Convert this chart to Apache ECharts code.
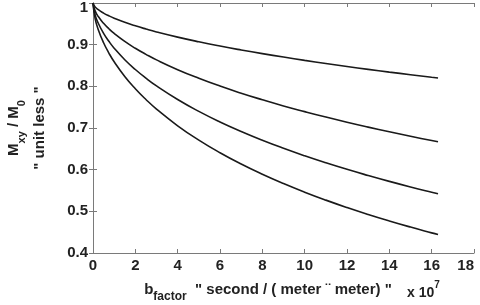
<!DOCTYPE html>
<html>
<head>
<meta charset="utf-8">
<script src="https://cdn.jsdelivr.net/npm/echarts@6/dist/echarts.min.js"></script>
<style>
html,body{margin:0;padding:0;background:#fff;}
#chart{width:480px;height:305px;}
</style>
</head>
<body>
<div id="chart"></div>
<script>
// b factor values (x 10^7 s/m^2)
var bValues = [0, 0.1, 0.25, 0.5, 0.75, 1, 1.5, 2, 2.5, 3, 4, 5, 6, 7, 8, 9, 10, 11, 12, 13, 14, 15, 16, 16.3];
// Mxy/M0 curves (top to bottom)
var curve1 = [1, 0.9907, 0.9839, 0.9758, 0.9692, 0.9635, 0.9537, 0.9452, 0.9376, 0.9306, 0.9181, 0.9069, 0.8967, 0.8873, 0.8785, 0.8702, 0.8623, 0.8549, 0.8477, 0.8408, 0.8342, 0.8279, 0.8217, 0.8199];
var curve2 = [1, 0.9811, 0.9675, 0.9512, 0.9381, 0.9269, 0.9077, 0.8913, 0.8768, 0.8635, 0.8400, 0.8193, 0.8006, 0.7835, 0.7678, 0.7530, 0.7393, 0.7262, 0.7138, 0.7021, 0.6909, 0.6802, 0.6699, 0.6669];
var curve3 = [1, 0.9716, 0.9513, 0.9271, 0.9080, 0.8916, 0.8639, 0.8404, 0.8197, 0.8011, 0.7684, 0.7399, 0.7145, 0.6917, 0.6707, 0.6514, 0.6334, 0.6166, 0.6008, 0.5860, 0.5719, 0.5585, 0.5458, 0.5422];
var curve4 = [1, 0.9625, 0.9360, 0.9046, 0.8799, 0.8590, 0.8238, 0.7942, 0.7684, 0.7454, 0.7053, 0.6709, 0.6406, 0.6135, 0.5890, 0.5666, 0.5460, 0.5269, 0.5091, 0.4925, 0.4769, 0.4622, 0.4483, 0.4443];
var xTicks = {min: 0, max: 18, interval: 2};
var yTicks = {min: 0.4, max: 1, interval: 0.1};

var FONT = 'Liberation Sans, Arial, sans-serif';
var chart = echarts.init(document.getElementById('chart'), null, {renderer: 'canvas'});

function pairs(ys) { return bValues.map(function (b, i) { return [b, ys[i]]; }); }
function lineSeries(ys) {
  return {
    type: 'line', data: pairs(ys), smooth: true, showSymbol: false,
    lineStyle: {color: '#1a1a1a', width: 1.6}, silent: true
  };
}
var axisCol = '#7a7a7a';
var labelStyle = {color: '#222', fontSize: 15, fontWeight: 'bold', fontFamily: FONT};

chart.setOption({
  backgroundColor: '#fff',
  animation: false,
  grid: {left: 93, right: 6, top: 3, bottom: 52, containLabel: false, outerBoundsMode: 'none'},
  xAxis: [{
    type: 'value', min: xTicks.min, max: xTicks.max, interval: xTicks.interval,
    axisLine: {lineStyle: {color: axisCol, width: 1}},
    axisTick: {inside: true, length: 4, lineStyle: {color: axisCol}},
    splitLine: {show: false},
    axisLabel: Object.assign({margin: 5, alignMaxLabel: 'right'}, labelStyle),
    name: '{b|b}{s|factor}{b|  " second / ( meter ¨ meter) "}',
    nameLocation: 'middle', nameGap: 24,
    nameTextStyle: {
      padding: [0, 31, 0, 0],
      rich: {
        b: {fontSize: 15, fontWeight: 'bold', fontFamily: FONT, color: '#222', lineHeight: 20, verticalAlign: 'bottom'},
        s: {fontSize: 12, fontWeight: 'bold', fontFamily: FONT, color: '#222', lineHeight: 12, verticalAlign: 'bottom', padding: [0, 0, -6, 0]}
      }
    }
  }, {
    type: 'value', position: 'top', min: xTicks.min, max: xTicks.max, interval: xTicks.interval,
    axisLine: {lineStyle: {color: axisCol, width: 1}},
    axisTick: {inside: true, length: 4, lineStyle: {color: axisCol}},
    axisLabel: {show: false}, splitLine: {show: false}
  }],
  yAxis: [{
    type: 'value', min: yTicks.min, max: yTicks.max, interval: yTicks.interval,
    axisLine: {show: true, lineStyle: {color: axisCol, width: 1}},
    axisTick: {show: true, inside: true, length: 4, lineStyle: {color: axisCol}},
    splitLine: {show: false},
    axisLabel: Object.assign({
      margin: 5,
      formatter: function (v) { return v >= 1 ? '{top|' + v + '}' : String(+v.toFixed(1)); },
      rich: {top: {fontSize: 15, fontWeight: 'bold', fontFamily: FONT, color: '#222', padding: [9, 0, 0, 0]}}
    }, labelStyle),
    name: '{b|M}{s|xy}{b| / M}{s|0}\n{c|" unit less "}',
    nameLocation: 'middle', nameRotate: 90, nameGap: 46,
    nameTextStyle: {
      rich: {
        b: {fontSize: 15, fontWeight: 'bold', fontFamily: FONT, color: '#222', lineHeight: 21, verticalAlign: 'top'},
        s: {fontSize: 11, fontWeight: 'bold', fontFamily: FONT, color: '#222', lineHeight: 11, verticalAlign: 'top', padding: [10, 0, 0, 0]},
        c: {fontSize: 15, fontWeight: 'bold', fontFamily: FONT, color: '#222', lineHeight: 20, verticalAlign: 'bottom'}
      }
    }
  }, {
    type: 'value', position: 'right', min: yTicks.min, max: yTicks.max, interval: yTicks.interval,
    axisLine: {show: true, lineStyle: {color: axisCol, width: 1}},
    axisTick: {show: true, inside: true, length: 4, lineStyle: {color: axisCol}},
    axisLabel: {show: false}, splitLine: {show: false}
  }],
  graphic: [{
    type: 'text', left: 407, top: 280,
    style: {
      text: '{b|x 10}{p|7}',
      rich: {
        b: {fontSize: 14, fontWeight: 'bold', fontFamily: FONT, fill: '#222', lineHeight: 20, verticalAlign: 'bottom'},
        p: {fontSize: 10, fontWeight: 'bold', fontFamily: FONT, fill: '#222', lineHeight: 10, verticalAlign: 'top'}
      }
    }
  }],
  series: [lineSeries(curve1), lineSeries(curve2), lineSeries(curve3), lineSeries(curve4)]
});
</script>
</body>
</html>
